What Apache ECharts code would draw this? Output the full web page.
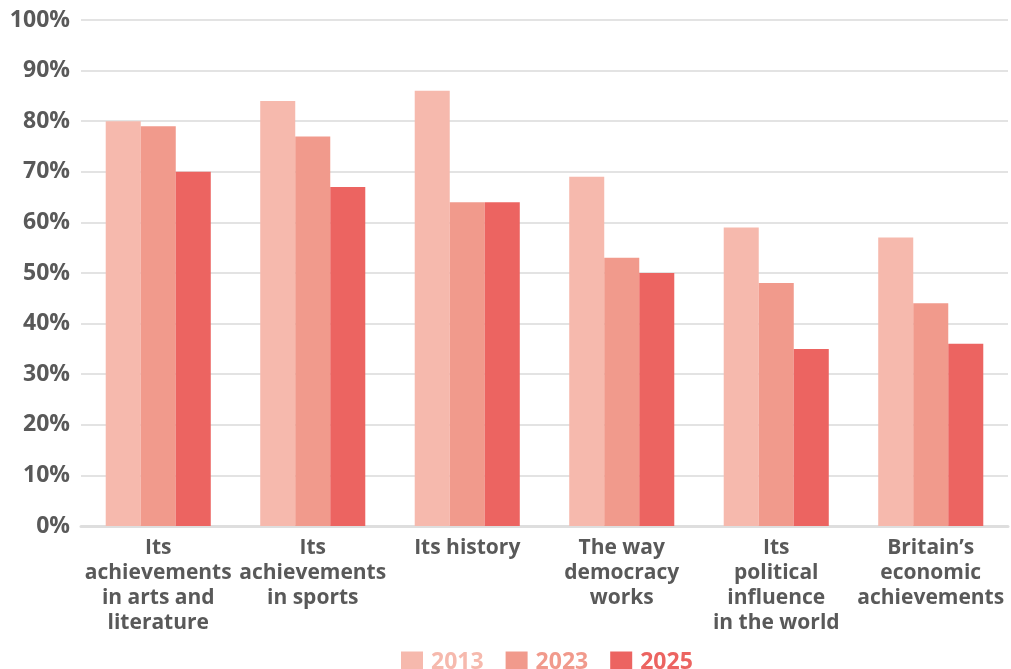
<!DOCTYPE html>
<html>
<head>
<meta charset="utf-8">
<script src="https://cdn.jsdelivr.net/npm/echarts@6/dist/echarts.min.js"></script>
<style>
  html, body { margin: 0; padding: 0; background: #fff; }
  #chart { width: 1011px; height: 669px; }
</style>
</head>
<body>
<div id="chart"></div>
<script>
// What people in Britain are proud of, by survey year (% of respondents)
const categories = [
  'Its\nachievements\nin arts and\nliterature',
  'Its\nachievements\nin sports',
  'Its history',
  'The way\ndemocracy\nworks',
  'Its\npolitical\ninfluence\nin the world',
  'Britain’s\neconomic\nachievements'
];
const years = ['2013', '2023', '2025'];
const values2013 = [80, 84, 86, 69, 59, 57];
const values2023 = [79, 77, 64, 53, 48, 44];
const values2025 = [70, 67, 64, 50, 35, 36];
const yTicks = { min: 0, max: 100, interval: 10 };

const colors = ['#f6b9ad', '#f19a8c', '#ec6461'];
const font = '"Open Sans", "Noto Sans", sans-serif';
const textColor = '#595959';

const seriesValues = [values2013, values2023, values2025];

const chart = echarts.init(document.getElementById('chart'));
chart.setOption({
  animation: false,
  grid: { left: 81, right: 3, top: 20, bottom: 143 },
  legend: {
    top: 646,
    left: 396,
    itemWidth: 22,
    itemHeight: 22,
    itemGap: 22,
    icon: 'rect',
    data: years.map((y, i) => ({
      name: y,
      textStyle: { color: colors[i] }
    })),
    textStyle: { fontFamily: font, fontWeight: 'bold', fontSize: 23, padding: [0, 0, 0, 3] }
  },
  xAxis: {
    type: 'category',
    data: categories,
    axisTick: { show: false },
    axisLine: { lineStyle: { color: '#dedede', width: 3 } },
    axisLabel: {
      interval: 0,
      margin: 10,
      fontFamily: font,
      fontWeight: 'bold',
      fontSize: 21,
      lineHeight: 25,
      color: textColor,
      align: 'center'
    }
  },
  yAxis: {
    type: 'value',
    min: yTicks.min,
    max: yTicks.max,
    interval: yTicks.interval,
    axisLine: { show: false },
    axisTick: { show: false },
    splitLine: { lineStyle: { color: '#e3e3e3', width: 2 } },
    axisLabel: {
      formatter: '{value}%',
      margin: 11,
      fontFamily: font,
      fontWeight: 'bold',
      fontSize: 23,
      color: textColor
    }
  },
  series: years.map((y, i) => ({
    name: y,
    type: 'bar',
    data: seriesValues[i],
    barGap: '0%',
    barCategoryGap: '32%',
    itemStyle: { color: colors[i] }
  }))
});
</script>
</body>
</html>
